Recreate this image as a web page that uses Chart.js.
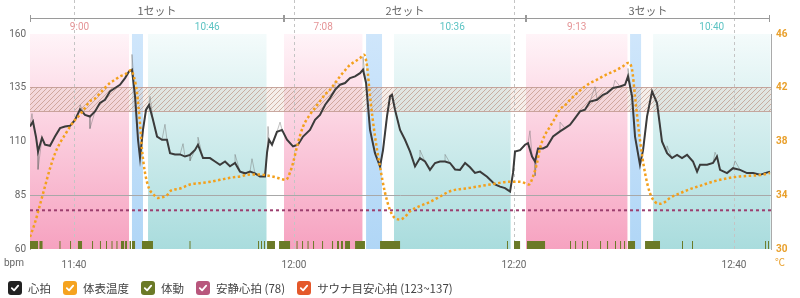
<!DOCTYPE html>
<html><head><meta charset="utf-8">
<script src="https://cdn.jsdelivr.net/npm/chart.js@4/dist/chart.umd.min.js"></script>
<style>
html,body{margin:0;padding:0;background:#fff;}
#wrap{position:relative;width:800px;height:298px;overflow:hidden;}
#legend{position:absolute;left:8px;top:280px;display:flex;align-items:center;font:11.5px "Noto Sans CJK JP",sans-serif;color:#444;white-space:nowrap;}
.item{display:flex;align-items:center;margin-right:12px;}
.box{width:14px;height:14px;border-radius:3px;margin-right:6px;display:flex;align-items:center;justify-content:center;}
</style></head>
<body><div id="wrap"><canvas id="c" width="800" height="298"></canvas><div id="legend"></div></div>
<script>
// ---------- data (minutes since 11:36) ----------
const xTickMinutes = [4, 24, 44, 64];
const xTickLabels = ['11:40', '12:00', '12:20', '12:40'];
const X_MAX = 67.36;

const setLabels = ['1セット', '2セット', '3セット'];
const setStart = [0, 23.09, 45.09];
const setEnd = [23.09, 45.09, 67.31];

const phaseType  = ['sauna', 'water', 'rest', 'sauna', 'water', 'rest', 'sauna', 'water', 'rest'];
const phaseStart = [0, 9.27, 10.73, 23.09, 30.55, 33.09, 45.09, 54.55, 56.64];
const phaseEnd   = [9.0, 10.27, 21.5, 30.22, 32.0, 43.69, 54.31, 55.55, 67.31];
const phaseLabel = ['9:00', '', '10:46', '7:08', '', '10:36', '9:13', '', '10:40'];

const restHR = 78;
const targetHR = [123, 137];
const bandDrawn = [124, 135.3];
const refLineBpm = 85;

const hrMin = [0,0.27,0.55,0.73,1.09,1.36,1.82,2.27,2.73,3.18,3.64,4.09,4.55,5.0,5.45,5.91,6.36,6.82,7.27,7.73,8.18,8.64,9.0,9.27,9.55,9.82,10.0,10.27,10.55,10.82,11.18,11.55,12.0,12.45,12.73,13.18,13.64,14.09,14.55,15.0,15.27,15.73,16.36,16.82,17.27,17.73,18.18,18.64,19.09,19.55,20.0,20.45,20.91,21.36,21.55,21.73,22.0,22.45,22.91,23.36,23.91,24.36,24.82,25.45,25.91,26.36,26.82,27.27,27.73,28.18,28.64,29.09,29.55,30.0,30.27,30.55,30.91,31.36,31.82,32.09,32.45,32.73,32.91,33.18,33.64,34.09,34.55,35.0,35.45,35.91,36.36,36.82,37.27,37.73,38.18,38.64,39.09,39.55,40.0,40.45,40.91,41.55,42.27,42.73,43.18,43.64,43.91,44.09,44.55,45.0,45.27,45.64,45.91,46.18,46.64,47.0,47.55,48.18,48.64,49.09,49.55,50.0,50.45,50.91,51.55,52.09,52.45,53.0,53.64,54.09,54.36,54.73,55.0,55.45,55.73,56.09,56.55,57.0,57.45,57.91,58.36,58.82,59.27,59.73,60.27,60.64,60.91,61.55,62.09,62.45,62.73,63.36,63.91,64.55,65.18,65.73,66.36,66.82,67.27];
const hrBpm = [117,119.3,112,105.3,111.7,108.5,108,112.3,116.2,117,117.3,120,125,122.4,121.6,124,127.9,129.4,133.3,134.9,136.4,139.5,142.6,143.4,131,110.8,102.4,115.4,124.8,127,120.1,112.3,110.8,110.8,104.6,104,104,103,103.8,106.1,108.5,102.3,102.3,100.7,99.2,100.7,98.5,100,96,95.2,96,95.2,93.7,93.7,105,110.8,108.5,114.5,115.4,110.8,107.7,108.5,112.3,115.4,120.1,122.4,127,130.2,134,136.4,137.2,139.5,140.3,141.8,143.4,137.2,115.4,104.6,98.4,106,121.6,131,131.7,124.8,115.4,110.8,105.3,98.4,102.3,100.7,96.8,100,100.7,100.7,100,97,96.8,100,98,95.4,96,93.6,90,89,88.3,86.7,95.4,105.3,106,108.5,109.2,103,100.7,106.8,106.8,107.7,112.3,114.7,116.2,117.8,120.9,124,124.8,128.6,129.4,131.7,132.5,134.9,135.6,136.4,140.3,131,112.3,99.2,106,121.6,133.3,127.9,110,104.6,102.3,103.8,102.3,103.8,100.7,96,99.2,99.2,100,103,96.8,95.3,97.6,96.8,95.3,95.3,94.5,95.3,96];

const rawSpikeMin = [0.18,0.73,4.55,5.45,9.27,10.91,12.27,13.91,14.55,15.27,18.64,20.18,21.64,22.73,27.73,30.27,35.45,37.73,45.45,45.91,48.18,51.36,53.18,54.36,57.91,62.27,64.09];
const rawSpikeBpm = [123,97,127,116,150.5,131,118,109,101,112,104,102,117,119,138,149.5,106,104,115,94,119,135.5,138.5,144,108,105,101];

const tempMin = [0,0.45,0.91,1.36,1.82,2.27,2.73,3.18,3.64,4.09,4.55,5.0,5.45,5.91,6.36,6.82,7.27,7.73,8.18,8.64,9.18,9.45,9.73,10.0,10.18,10.45,10.82,11.18,11.64,12.0,12.45,12.73,13.64,14.55,15.45,16.36,17.27,18.18,19.09,20.0,20.91,21.36,22.27,23.27,23.64,23.91,24.36,24.82,25.45,25.91,26.36,26.82,27.27,27.73,28.18,28.64,29.09,29.55,30.0,30.36,30.64,30.91,31.36,31.82,32.27,32.73,33.18,33.64,34.09,34.55,35.45,36.36,37.27,38.18,40.0,41.82,43.64,44.55,45.0,45.36,45.73,46.09,46.36,46.82,47.27,47.73,48.18,48.64,49.09,49.73,50.27,50.91,51.55,52.09,52.73,53.36,53.91,54.36,54.73,55.0,55.45,55.91,56.36,56.82,57.27,57.73,58.18,59.09,60.0,60.91,61.82,62.73,63.64,64.55,65.45,66.36,67.27];
const tempC = [30.9,31.95,33.3,34.65,36.0,37.1,37.9,38.5,39.1,39.6,40.0,40.5,41.0,41.2,41.6,42.0,42.35,42.6,42.85,43.0,43.3,42.8,41.6,39.3,37.4,35.7,34.5,34.1,33.8,33.85,34.0,34.3,34.5,34.8,34.9,35.0,35.15,35.3,35.4,35.55,35.55,35.5,35.35,35.15,35.7,36.4,37.9,39.1,40.0,40.5,41.0,41.5,41.85,42.35,42.85,43.3,43.7,43.96,44.2,44.46,43.6,41.35,38.4,36.1,34.2,32.9,32.3,32.2,32.4,32.8,33.2,33.5,33.9,34.3,34.55,34.8,35.0,35.0,34.9,34.8,35.4,36.4,37.5,38.5,39.1,39.75,40.4,40.7,41.1,41.6,41.98,42.35,42.6,42.85,43.1,43.34,43.6,43.85,43.34,41.35,38.1,35.65,34.15,33.5,33.36,33.5,33.8,34.15,34.46,34.7,34.95,35.15,35.3,35.4,35.45,35.5,35.65];

const moveStart = [0,0.86,2.68,3.64,4.36,5.64,6.36,6.91,7.41,7.86,8.27,8.64,9.05,9.27,10.18,14.5,20.73,21.0,21.27,21.55,22.64,24.23,24.73,25.23,25.73,26.55,27.45,27.91,28.27,28.64,29.55,31.82,43.36,44.0,45.18,49.09,49.55,50.18,50.64,51.82,52.45,53.18,53.64,54.0,54.36,55.91,59.27,60.18,66.82,67.09];
const moveEnd   = [0.73,1.14,2.77,3.73,4.73,5.73,6.45,7.0,7.5,7.95,8.55,8.82,9.18,9.55,11.18,14.59,20.82,21.09,21.36,22.27,23.64,24.32,24.82,25.32,25.82,26.64,27.55,28.09,28.45,29.09,30.45,33.64,43.45,44.55,46.82,49.18,49.64,50.27,50.73,51.91,52.55,53.27,53.73,54.09,55.0,57.27,59.36,60.27,66.91,67.18];

// ---------- tables built from the data ----------
const hrPoints = hrMin.map((t, i) => ({x: t, y: hrBpm[i]}));
const rawPoints = hrPoints.concat(rawSpikeMin.map((t, i) => ({x: t, y: rawSpikeBpm[i]}))).sort((a, b) => a.x - b.x);
const tempPoints = tempMin.map((t, i) => ({x: t, y: tempC[i]}));
const movePoints = [{x: 0, y: 0}];
moveStart.forEach((s, i) => { movePoints.push({x: s, y: 1}); movePoints.push({x: moveEnd[i], y: 0}); });
movePoints.push({x: X_MAX, y: 0});

// ---------- styling helpers ----------
const pc = document.createElement('canvas'); pc.width = 5; pc.height = 5;
const pctx = pc.getContext('2d');
pctx.fillStyle = 'rgba(225,205,195,0.35)'; pctx.fillRect(0, 0, 5, 5);
pctx.strokeStyle = 'rgba(180,130,110,0.55)'; pctx.lineWidth = 1;
pctx.beginPath(); pctx.moveTo(0, 5); pctx.lineTo(5, 0); pctx.moveTo(-1, 1); pctx.lineTo(1, -1); pctx.moveTo(4, 6); pctx.lineTo(6, 4); pctx.stroke();

const FONT = 'Roboto, "Noto Sans CJK JP", sans-serif';

const bgPlugin = {
  id: 'bg',
  beforeDatasetsDraw(chart) {
    const {ctx, chartArea: a, scales: {x, y}} = chart;
    ctx.save();
    const grad = (c0, c1) => { const g = ctx.createLinearGradient(0, a.top, 0, a.bottom); g.addColorStop(0, c0); g.addColorStop(1, c1); return g; };
    const fills = {sauna: grad('#fff4f8', '#f6a2c0'), water: grad('#cfe6fb', '#b0d6f6'), rest: grad('#f4fbfb', '#a9dcdd')};
    phaseType.forEach((k, i) => {
      const x0 = x.getPixelForValue(phaseStart[i]), x1 = x.getPixelForValue(phaseEnd[i]);
      ctx.fillStyle = fills[k];
      ctx.fillRect(x0, a.top, x1 - x0, a.bottom - a.top);
    });
    // target band
    const yt = y.getPixelForValue(bandDrawn[1]), yb = y.getPixelForValue(bandDrawn[0]);
    ctx.fillStyle = ctx.createPattern(pc, 'repeat');
    ctx.fillRect(a.left, yt, a.right - a.left, yb - yt);
    ctx.strokeStyle = 'rgba(190,150,140,0.8)'; ctx.lineWidth = 1;
    ctx.beginPath(); ctx.moveTo(a.left, Math.round(yt) + 0.5); ctx.lineTo(a.right, Math.round(yt) + 0.5);
    ctx.moveTo(a.left, Math.round(yb) + 0.5); ctx.lineTo(a.right, Math.round(yb) + 0.5); ctx.stroke();
    // reference line
    const yr = Math.round(y.getPixelForValue(refLineBpm)) + 0.5;
    ctx.strokeStyle = '#a8a8a8';
    ctx.beginPath(); ctx.moveTo(a.left, yr); ctx.lineTo(a.right, yr); ctx.stroke();
    // vertical dashed time grid
    ctx.strokeStyle = '#c4c4c4'; ctx.setLineDash([3, 3]);
    xTickMinutes.forEach(t => {
      const px = Math.round(x.getPixelForValue(t)) + 0.5;
      ctx.beginPath(); ctx.moveTo(px, 0); ctx.lineTo(px, a.bottom); ctx.stroke();
    });
    ctx.restore();
  },
  afterDraw(chart) {
    const {ctx, chartArea: a, scales: {x}} = chart;
    ctx.save();
    ctx.textAlign = 'center'; ctx.textBaseline = 'middle';
    // set brackets
    setLabels.forEach((lab, i) => {
      const xs = Math.round(x.getPixelForValue(setStart[i])) + 0.5, xe = Math.round(x.getPixelForValue(setEnd[i])) - 0.5;
      ctx.strokeStyle = '#9a9a9a'; ctx.lineWidth = 1;
      ctx.beginPath(); ctx.moveTo(xs, 18.5); ctx.lineTo(xe, 18.5);
      ctx.moveTo(xs, 15); ctx.lineTo(xs, 22); ctx.moveTo(xe, 15); ctx.lineTo(xe, 22); ctx.stroke();
      ctx.font = '11px "Noto Sans CJK JP", sans-serif'; ctx.fillStyle = '#666';
      ctx.fillText(lab, (xs + xe) / 2, 11);
    });
    // phase durations
    ctx.font = '10px ' + FONT;
    phaseLabel.forEach((lab, i) => {
      if (!lab) return;
      const cx = (x.getPixelForValue(phaseStart[i]) + x.getPixelForValue(phaseEnd[i])) / 2;
      ctx.fillStyle = phaseType[i] === 'sauna' ? '#e59597' : '#5cc3c3';
      ctx.fillText(lab, cx, 27);
    });
    // unit labels
    ctx.font = '10px ' + FONT;
    ctx.fillStyle = '#666'; ctx.fillText('bpm', 14, 263);
    ctx.fillStyle = '#e9a02c'; ctx.textAlign = 'left'; ctx.fillText('℃', 775, 263);
    ctx.restore();
  }
};

new Chart(document.getElementById('c'), {
  type: 'line',
  data: {
    datasets: [
      {label: '体表温度', data: tempPoints, yAxisID: 'y2', borderColor: '#f3a01c', borderWidth: 2.5, borderDash: [2.5, 2.5], pointRadius: 0, cubicInterpolationMode: 'monotone'},
      {label: '心拍', data: hrPoints, yAxisID: 'y', borderColor: '#3b3b3b', borderWidth: 2, pointRadius: 0, tension: 0},
      {label: 'raw', data: rawPoints, yAxisID: 'y', borderColor: 'rgba(110,110,110,0.55)', borderWidth: 0.8, pointRadius: 0, tension: 0},
      {label: '安静心拍', data: [{x: 0, y: restHR}, {x: X_MAX, y: restHR}], yAxisID: 'y', borderColor: '#9c3e6e', borderWidth: 2, borderDash: [3, 3], pointRadius: 0},
      {label: '体動', data: movePoints, yAxisID: 'ym', stepped: true, fill: 'origin', backgroundColor: '#6b7a27', borderWidth: 0, pointRadius: 0}
    ]
  },
  options: {
    responsive: false, animation: false, devicePixelRatio: 1,
    layout: {padding: {top: 34, left: 0, right: 0, bottom: 0}},
    plugins: {legend: {display: false}, tooltip: {enabled: false}},
    scales: {
      x: {type: 'linear', min: 0, max: X_MAX,
        grid: {display: false, drawTicks: false}, border: {display: false},
        afterBuildTicks: s => { s.ticks = xTickMinutes.map(v => ({value: v})); },
        ticks: {autoSkip: false, maxRotation: 0, padding: 10, color: '#666', font: {size: 10, family: FONT},
          callback: (v, i) => xTickLabels[i]},
        afterFit: s => { s.height = 49; }},
      y: {position: 'left', min: 60, max: 160,
        ticks: {stepSize: 25, color: '#666', padding: 4, font: {size: 10, family: FONT}},
        grid: {display: false, drawTicks: false}, border: {display: true, color: '#aaa'},
        afterFit: s => { s.width = 30; }},
      y2: {position: 'right', min: 30, max: 46,
        ticks: {stepSize: 4, color: '#e9a02c', padding: 5, font: {size: 10, family: FONT, weight: 'bold'}},
        grid: {display: false, drawTicks: false}, border: {display: true, color: '#aaa'},
        afterFit: s => { s.width = 29; }},
      ym: {display: false, min: 0, max: 27}
    }
  },
  plugins: [bgPlugin]
});

// ---------- legend ----------
const legendLabels = ['心拍', '体表温度', '体動', '安静心拍 (' + restHR + ')', 'サウナ目安心拍 (' + targetHR[0] + '~' + targetHR[1] + ')'];
const legendColors = ['#222222', '#f5a31f', '#6b7a27', '#b8567c', '#e4582a'];
const check = '<svg width="10" height="10" viewBox="0 0 10 10"><polyline points="1.8,5.2 4.1,7.4 8.2,2.6" fill="none" stroke="#fff" stroke-width="1.8" stroke-linecap="round" stroke-linejoin="round"/></svg>';
document.getElementById('legend').innerHTML = legendLabels.map((l, i) =>
  '<div class="item"><div class="box" style="background:' + legendColors[i] + '">' + check + '</div><span>' + l + '</span></div>').join('');
</script>
</body></html>
